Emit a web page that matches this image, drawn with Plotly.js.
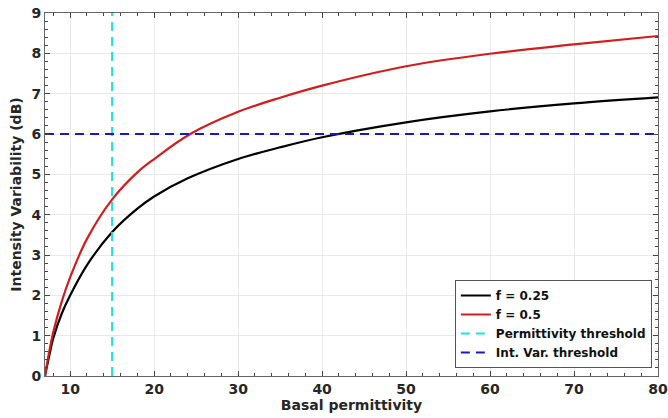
<!DOCTYPE html>
<html><head><meta charset="utf-8">
<script src="https://cdn.plot.ly/plotly-3.0.1.min.js"></script>
<style>body{margin:0;background:#fff}#c{width:668px;height:418px}</style>
</head><body><div id="c"></div>
<script>
const xBlack = [7, 7.5, 8, 9, 10, 12, 15, 18, 20, 24, 30, 35, 40, 50, 60, 70, 80];
const f025 = [0, 0.5, 0.95, 1.55, 2.0, 2.75, 3.57, 4.15, 4.45, 4.9, 5.38, 5.67, 5.92, 6.29, 6.56, 6.76, 6.91];
const xRed = [7, 7.5, 8, 9, 10, 12, 15, 18, 20, 24.3, 30, 35, 40, 50, 60, 70, 80];
const f050 = [0, 0.6, 1.1, 1.85, 2.45, 3.4, 4.38, 5.05, 5.38, 6.0, 6.55, 6.9, 7.2, 7.68, 7.99, 8.22, 8.43];
const permThreshold = 15;
const varThreshold = 6;
const yRange = [0, 9];
const xRange = [7, 80];
const names = ['f = 0.25', 'f = 0.5', 'Permittivity threshold', 'Int. Var. threshold'];

const traces = [
  {x: xBlack, y: f025, name: names[0], mode: 'lines', line: {color: '#000000', width: 2.2, shape: 'spline'}},
  {x: xRed, y: f050, name: names[1], mode: 'lines', line: {color: '#d01e1e', width: 2.2, shape: 'spline'}},
  {x: [permThreshold, permThreshold], y: yRange, name: names[2], mode: 'lines', line: {color: '#22e0e0', width: 2.2, dash: '9px,6px'}},
  {x: xRange, y: [varThreshold, varThreshold], name: names[3], mode: 'lines', line: {color: '#1a1ab8', width: 2.2, dash: '9px,6px'}}
];
const layout = {
  width: 668, height: 418,
  margin: {l: 45, r: 10, t: 13, b: 42},
  paper_bgcolor: '#fff', plot_bgcolor: '#fff',
  font: {family: 'DejaVu Sans, sans-serif', color: '#262626'},
  showlegend: true,
  legend: {x: 0.99, xanchor: 'right', y: 0.022, yanchor: 'bottom', bgcolor: '#fff', bordercolor: '#555', borderwidth: 1,
    font: {family: 'DejaVu Sans, sans-serif', size: 12, color: '#111', weight: 'bold'}, tracegroupgap: 0},
  xaxis: {range: xRange, tickvals: [10, 20, 30, 40, 50, 60, 70, 80], ticks: 'inside', ticklen: 5, tickcolor: '#444',
    mirror: 'ticks', showline: true, linecolor: '#666', linewidth: 1, showgrid: true, gridcolor: '#e8e8e8', zeroline: false,
    minor: {dtick: 2, tick0: 0, ticks: 'inside', ticklen: 3, tickcolor: '#444', showgrid: false},
    tickfont: {family: 'DejaVu Sans, sans-serif', size: 14, color: '#262626', weight: 'bold'},
    title: {text: 'Basal permittivity', font: {family: 'DejaVu Sans, sans-serif', size: 14, color: '#262626', weight: 'bold'}, standoff: 4}},
  yaxis: {range: yRange, dtick: 1, ticks: 'inside', ticklen: 5, tickcolor: '#444',
    mirror: 'ticks', showline: true, linecolor: '#666', linewidth: 1, showgrid: true, gridcolor: '#e8e8e8', zeroline: false,
    minor: {dtick: 0.2, ticks: 'inside', ticklen: 3, tickcolor: '#444', showgrid: false},
    tickfont: {family: 'DejaVu Sans, sans-serif', size: 14, color: '#262626', weight: 'bold'},
    title: {text: 'Intensity Variability (dB)', font: {family: 'DejaVu Sans, sans-serif', size: 14, color: '#262626', weight: 'bold'}, standoff: 6}}
};
Plotly.newPlot('c', traces, layout, {displayModeBar: false, staticPlot: true});
</script></body></html>
